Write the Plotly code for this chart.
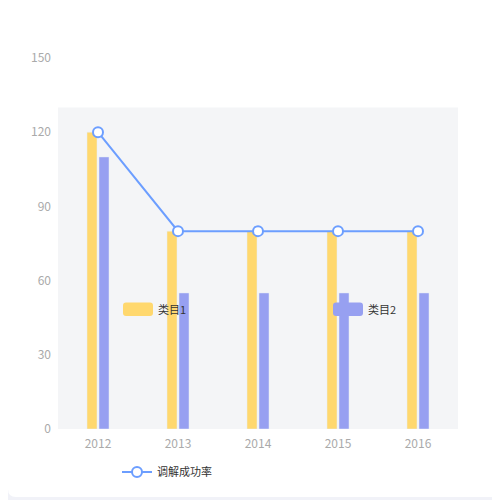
import plotly.graph_objects as go

years = ["2012", "2013", "2014", "2015", "2016"]
cat1 = [120, 80, 80, 80, 80]
cat2 = [110, 55, 55, 55, 55]
rate = [120, 80, 80, 80, 80]

YELLOW = "#ffd86e"
PURPLE = "#97a0f1"
LINE = "#6c9eff"
FONT = "Noto Sans CJK SC"

# the page puts the figure 8px in from the top-left corner,
# so everything below is in figure pixels (screen pixels - 8)
OFF = 8
L, R, T, B = 50, 50, 50, 79
PW, PH = 500 - L - R, 500 - T - B


def px(x):
    return (x - OFF - L) / PW


def py(y):
    return (500 - B - (y - OFF)) / PH


def rounded(x0, y0, x1, y1, r):
    # rounded rectangle path in paper units, from screen pixel coordinates
    rx, ry = r / PW, r / PH
    a, b, c, d = px(x0), px(x1), py(y0), py(y1)
    return (f"M{a+rx},{c} L{b-rx},{c} Q{b},{c} {b},{c-ry} "
            f"L{b},{d+ry} Q{b},{d} {b-rx},{d} L{a+rx},{d} "
            f"Q{a},{d} {a},{d+ry} L{a},{c-ry} Q{a},{c} {a+rx},{c} Z")


fig = go.Figure()
fig.add_trace(go.Bar(x=years, y=cat1, name="类目1", marker_color=YELLOW,
                     width=0.125, offset=-0.1375, showlegend=False))
fig.add_trace(go.Bar(x=years, y=cat2, name="类目2", marker_color=PURPLE,
                     width=0.125, offset=0.0125, showlegend=False))
fig.add_trace(go.Scatter(x=years, y=rate, name="调解成功率", mode="lines+markers",
                         line=dict(color=LINE, width=2),
                         marker=dict(size=10, color="white",
                                     line=dict(color=LINE, width=2))))

shapes = [
    # white card
    dict(type="path", xref="paper", yref="paper", layer="below",
         path=rounded(8, -10, 530, 497, 8), fillcolor="white", line_width=0),
    # grey band behind bars
    dict(type="rect", xref="paper", yref="y", x0=0, x1=1, y0=0, y1=130,
         layer="below", fillcolor="#f4f5f7", line_width=0),
    # bar legend swatches
    dict(type="path", xref="paper", yref="paper",
         path=rounded(123, 302.5, 153, 316, 3), fillcolor=YELLOW, line_width=0),
    dict(type="path", xref="paper", yref="paper",
         path=rounded(333, 302.5, 363, 316, 3), fillcolor=PURPLE, line_width=0),
]
annotations = [
    dict(text="类目1", xref="paper", yref="paper", x=px(156), y=py(309),
         xanchor="left", yanchor="middle", showarrow=False,
         font=dict(size=11, color="#333", family=FONT)),
    dict(text="类目2", xref="paper", yref="paper", x=px(366), y=py(309),
         xanchor="left", yanchor="middle", showarrow=False,
         font=dict(size=11, color="#333", family=FONT)),
]

fig.update_layout(
    width=500, height=500,
    margin=dict(l=L, r=R, t=T, b=B),
    paper_bgcolor="#f1f2f8", plot_bgcolor="rgba(0,0,0,0)",
    barmode="overlay",
    font=dict(family=FONT, size=12, color="#aaa"),
    shapes=shapes, annotations=annotations,
    showlegend=True,
    legend=dict(x=px(117), y=py(472), xanchor="left", yanchor="middle",
                bgcolor="rgba(0,0,0,0)", itemwidth=30,
                font=dict(size=11, color="#333", family=FONT)),
    xaxis=dict(type="category", range=[-0.5, 4.5], showgrid=False,
               showline=False, zeroline=False, ticks="",
               ticklabelstandoff=6, tickfont=dict(size=12, color="#aaa")),
    yaxis=dict(range=[0, 150], tickvals=[0, 30, 60, 90, 120, 150],
               showgrid=False, showline=False, zeroline=False, ticks="",
               ticklabelstandoff=6, tickfont=dict(size=12, color="#aaa")),
)

fig.write_html("out.html")
